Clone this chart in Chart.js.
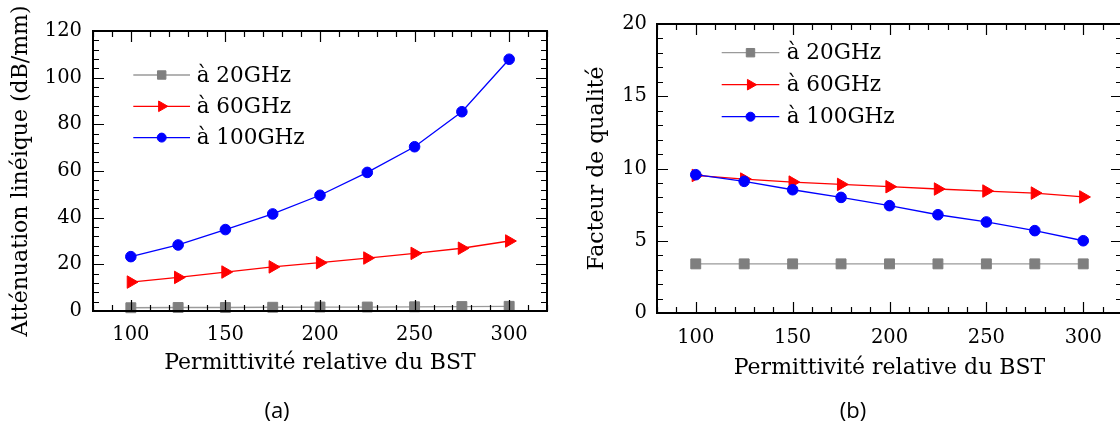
<!DOCTYPE html>
<html><head><meta charset="utf-8">
<script src="https://cdn.jsdelivr.net/npm/chart.js@4.4.1/dist/chart.umd.min.js"></script>
<style>
html,body{margin:0;padding:0;overflow:hidden;background:#fff;width:1120px;height:425px;}
#ca{position:absolute;left:0;top:0;}
#cb{position:absolute;left:560px;top:0;}
.cap{position:absolute;font-family:"Open Sans",sans-serif;font-size:22px;color:#000;transform:translateX(-50%);line-height:1;}
</style></head><body>
<canvas id="ca" width="560" height="425"></canvas>
<canvas id="cb" width="580" height="425"></canvas>
<div class="cap" style="left:277px;top:398px">(a)</div>
<div class="cap" style="left:853px;top:398px">(b)</div>
<script>
// ---- data ----
const permittivity = [100, 125, 150, 175, 200, 225, 250, 275, 300];
const seriesNames = ['à 20GHz', 'à 60GHz', 'à 100GHz'];

const attenuation20 = [1.4, 1.5, 1.5, 1.6, 1.7, 1.7, 1.8, 1.9, 2.0];
const attenuation60 = [12.4, 14.4, 16.7, 18.9, 20.7, 22.7, 24.7, 26.9, 30.0];
const attenuation100 = [23.3, 28.3, 34.9, 41.6, 49.6, 59.4, 70.4, 85.4, 107.9];

const quality20 = [3.4, 3.4, 3.4, 3.4, 3.4, 3.4, 3.4, 3.4, 3.4];
const quality60 = [9.52, 9.27, 9.06, 8.9, 8.74, 8.58, 8.44, 8.3, 8.03];
const quality100 = [9.57, 9.11, 8.53, 8.0, 7.43, 6.8, 6.3, 5.7, 5.0];

const xTickLabels = [100, 150, 200, 250, 300];
const yTickLabelsA = [0, 20, 40, 60, 80, 100, 120];
const yTickLabelsB = [0, 5, 10, 15, 20];

const titleA = 'Atténuation linéique (dB/mm)';
const titleB = 'Facteur de qualité';
const xTitle = 'Permittivité relative du BST';

// ---- styles ----
const SERIF = '"DejaVu Serif", serif';
const TICK_SIZE = 19.5;
const styles = [
  {line: '#9a9a9a', fill: '#7f7f7f', pointStyle: 'rect', radius: 7, rotation: 0},
  {line: '#ff0000', fill: '#ff0000', pointStyle: 'triangle', radius: 7.2, rotation: 90},
  {line: '#0000ff', fill: '#0000ff', pointStyle: 'circle', radius: 5.3, rotation: 0}
];

function makeDatasets(arrays) {
  return arrays.map((arr, i) => ({
    label: seriesNames[i],
    data: permittivity.map((x, j) => ({x: x, y: arr[j]})),
    borderColor: styles[i].line,
    backgroundColor: styles[i].fill,
    pointBackgroundColor: styles[i].fill,
    pointBorderColor: styles[i].fill,
    pointBorderWidth: 1,
    pointStyle: styles[i].pointStyle,
    pointRotation: styles[i].rotation,
    pointRadius: styles[i].radius,
    pointHoverRadius: styles[i].radius,
    borderWidth: 1.3,
    tension: 0,
    clip: false,
    order: 3 - i
  }));
}

function drawMarker(ctx, style, radius, x, y) {
  ctx.save();
  ctx.fillStyle = style.fill;
  ctx.strokeStyle = style.fill;
  ctx.lineWidth = 1;
  ctx.beginPath();
  if (style.pointStyle === 'rect') {
    const s = radius * Math.SQRT1_2;
    ctx.rect(x - s, y - s, 2 * s, 2 * s);
  } else if (style.pointStyle === 'triangle') {
    let rad = style.rotation * Math.PI / 180;
    ctx.moveTo(x + Math.sin(rad) * radius, y - Math.cos(rad) * radius);
    rad += 2 * Math.PI / 3;
    ctx.lineTo(x + Math.sin(rad) * radius, y - Math.cos(rad) * radius);
    rad += 2 * Math.PI / 3;
    ctx.lineTo(x + Math.sin(rad) * radius, y - Math.cos(rad) * radius);
    ctx.closePath();
  } else {
    ctx.arc(x, y, radius, 0, Math.PI * 2);
  }
  ctx.fill();
  ctx.stroke();
  ctx.restore();
}

const lineLegend = {
  id: 'lineLegend',
  afterDatasetsDraw(chart, args, o) {
    const {ctx, chartArea} = chart;
    ctx.save();
    chart.data.datasets.forEach((ds, i) => {
      const y = chartArea.top + o.y0 + i * o.dy;
      const x0 = chartArea.left + o.x0, x1 = x0 + o.len;
      ctx.strokeStyle = ds.borderColor;
      ctx.lineWidth = ds.borderWidth;
      ctx.beginPath(); ctx.moveTo(x0, y); ctx.lineTo(x1, y); ctx.stroke();
      drawMarker(ctx, styles[i], styles[i].radius * o.markerScale, x0 + o.mx, y);
      ctx.fillStyle = '#000';
      ctx.font = o.fontSize + 'px ' + SERIF;
      ctx.textBaseline = 'middle';
      ctx.textAlign = 'left';
      ctx.fillText(ds.label, chartArea.left + o.tx, y + o.textDy);
    });
    ctx.restore();
  }
};

const frameTicks = {
  id: 'frameTicks',
  afterDraw(chart, args, o) {
    const {ctx, chartArea: {left, right, top, bottom}, scales: {x, y}} = chart;
    ctx.save();
    ctx.strokeStyle = '#000';
    ctx.lineWidth = o.tickWidth;
    ctx.beginPath();
    for (let v = x.min; v <= x.max + 1e-9; v += o.xMinor) {
      const px = Math.round(x.getPixelForValue(v)) + 0.5;
      const len = xTickLabels.includes(v) ? o.majorLen : o.minorLen;
      ctx.moveTo(px, bottom); ctx.lineTo(px, bottom - len);
      ctx.moveTo(px, top); ctx.lineTo(px, top + len);
    }
    for (let v = y.min; v <= y.max + 1e-9; v += o.yMinor) {
      const py = Math.round(y.getPixelForValue(v)) + 0.5;
      const len = o.yMajor.includes(v) ? o.majorLen : o.minorLen;
      ctx.moveTo(left, py); ctx.lineTo(left + len, py);
      ctx.moveTo(right, py); ctx.lineTo(right - len, py);
    }
    ctx.stroke();
    ctx.lineWidth = o.frameWidth;
    ctx.strokeRect(left, top, right - left, bottom - top);
    ctx.restore();
  }
};

function makeChart(canvasId, arrays, yMax, yTicks, yTitle, geo) {
  return new Chart(document.getElementById(canvasId), {
    type: 'line',
    data: {datasets: makeDatasets(arrays)},
    plugins: [lineLegend, frameTicks],
    options: {
      responsive: false,
      animation: false,
      events: [],
      layout: {padding: {top: geo.padTop, right: geo.padRight, left: 0, bottom: 0}},
      plugins: {
        legend: {display: false},
        tooltip: {enabled: false},
        lineLegend: geo.legend,
        frameTicks: {tickWidth: 1.2, frameWidth: 2, majorLen: 11, minorLen: 6,
                     xMinor: 10, yMinor: geo.yMinor, yMajor: yTicks}
      },
      scales: {
        x: {
          type: 'linear', min: 80, max: 320,
          afterBuildTicks: s => { s.ticks = xTickLabels.map(v => ({value: v})); },
          afterFit: s => { s.height = geo.xAxisHeight; },
          grid: {display: false, drawTicks: false},
          border: {display: false},
          ticks: {font: {family: SERIF, size: TICK_SIZE}, color: '#000', padding: geo.xTickPad,
                  maxRotation: 0, autoSkip: false},
          title: {display: true, text: xTitle, color: '#000',
                  font: {family: SERIF, size: 22}, padding: {top: 0, bottom: geo.xTitlePad}}
        },
        y: {
          type: 'linear', min: 0, max: yMax,
          afterBuildTicks: s => { s.ticks = yTicks.map(v => ({value: v})); },
          afterFit: s => { s.width = geo.yAxisWidth; },
          grid: {display: false, drawTicks: false},
          border: {display: false},
          ticks: {font: {family: SERIF, size: TICK_SIZE}, color: '#000', padding: geo.yTickPad, autoSkip: false},
          title: {display: true, text: yTitle, color: '#000',
                  font: {family: SERIF, size: 22}, padding: {top: geo.yTitlePad, bottom: 0}}
        }
      }
    }
  });
}

makeChart('ca', [attenuation20, attenuation60, attenuation100], 120, yTickLabelsA, titleA, {
  padTop: 31, padRight: 13, yAxisWidth: 93, xAxisHeight: 114,
  xTickPad: 12, yTickPad: 11, xTitlePad: 49, yTitlePad: 8, yMinor: 4,
  legend: {x0: 40.3, len: 56.7, mx: 28.4, tx: 103.7, y0: 44, dy: 31.3, markerScale: 0.85, fontSize: 21.5, textDy: 1}
});

makeChart('cb', [quality20, quality60, quality100], 20, yTickLabelsB, titleB, {
  padTop: 24, padRight: 18, yAxisWidth: 97, xAxisHeight: 112,
  xTickPad: 13, yTickPad: 10, xTitlePad: 44, yTitlePad: 24, yMinor: 1,
  legend: {x0: 64.7, len: 57.6, mx: 28.8, tx: 129.7, y0: 28.7, dy: 32, markerScale: 0.85, fontSize: 21.5, textDy: 1}
});
</script>
</body></html>
